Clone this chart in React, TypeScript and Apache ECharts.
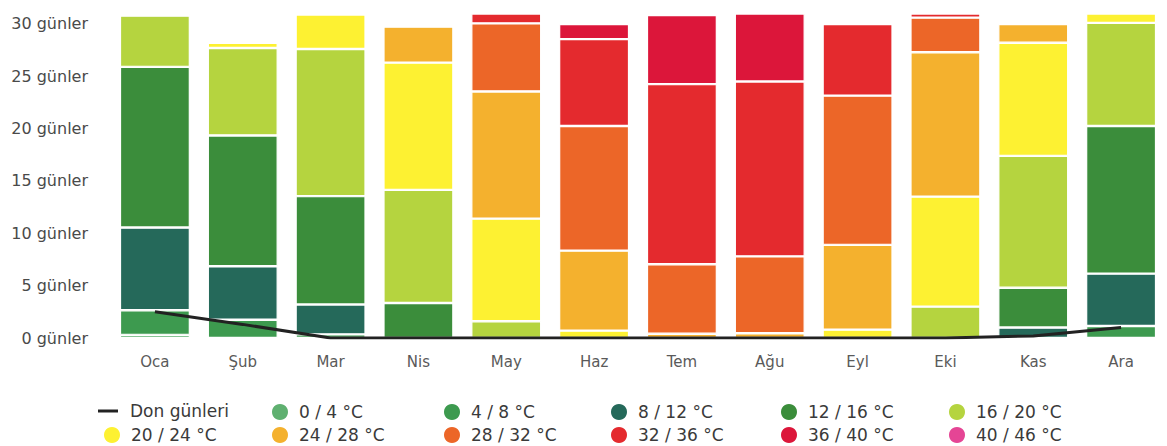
import React, { useEffect, useRef } from "react";
import * as echarts from "echarts";

const months = ["Oca", "Şub", "Mar", "Nis", "May", "Haz", "Tem", "Ağu", "Eyl", "Eki", "Kas", "Ara"];
const yTicks = [0, 5, 10, 15, 20, 25, 30];

const frostDays = [2.5, 1.3, 0, 0, 0, 0, 0, 0, 0, 0, 0.2, 1.0];

const t0_4 = [0.3, null, null, null, null, null, null, null, null, null, null, null];
const t4_8 = [2.35, 1.75, 0.35, null, null, null, null, null, null, null, null, 1.15];
const t8_12 = [7.9, 5.1, 2.85, null, null, null, null, null, null, null, 1.0, 5.0];
const t12_16 = [15.35, 12.5, 10.35, 3.35, null, null, null, null, null, null, 3.8, 14.1];
const t16_20 = [4.9, 8.35, 14.05, 10.8, 1.6, null, null, null, null, 3.0, 12.6, 9.85];
const t20_24 = [0.2, 0.5, 3.3, 12.15, 9.8, 0.7, null, null, 0.8, 10.5, 10.8, 0.9];
const t24_28 = [null, null, 0.1, 3.45, 12.15, 7.65, 0.4, 0.45, 8.1, 13.8, 1.8, null];
const t28_32 = [null, null, null, 0.25, 6.5, 11.9, 6.65, 7.35, 14.25, 3.3, null, null];
const t32_36 = [null, null, null, null, 0.95, 8.3, 17.2, 16.7, 6.85, 0.4, null, null];
const t36_40 = [null, null, null, null, null, 1.45, 6.6, 6.5, null, null, null, null];
const t40_46 = [null, null, null, null, null, null, 0.15, null, null, null, null, null];

const frostName = "Don günleri";
const tempNames = [
  "0 / 4 °C", "4 / 8 °C", "8 / 12 °C", "12 / 16 °C", "16 / 20 °C", "20 / 24 °C",
  "24 / 28 °C", "28 / 32 °C", "32 / 36 °C", "36 / 40 °C", "40 / 46 °C",
];
const tempData = [t0_4, t4_8, t8_12, t12_16, t16_20, t20_24, t24_28, t28_32, t32_36, t36_40, t40_46];
const tempColors = [
  "#5fb070", "#3d9a4f", "#25695a", "#3b8d3b", "#b5d43f", "#fdf132",
  "#f4b12e", "#ec6628", "#e42a2e", "#dc163a", "#e54595",
];

export default function App() {
  const ref = useRef<HTMLDivElement>(null);
  useEffect(() => {
    if (!ref.current) return;
    const chart = echarts.init(ref.current, null, { renderer: "svg" });
    const font = "DejaVu Sans";

    const barSeries = tempNames.map((name, i) => ({
      name,
      type: "bar",
      stack: "days",
      barWidth: 70,
      data: tempData[i],
      itemStyle: { color: tempColors[i], borderColor: "#ffffff", borderWidth: 1.2 },
      emphasis: { disabled: true },
    }));

    // legend layout: 6 columns, 2 rows
    const colText = [130, 298, 470, 637, 807, 975];
    const rowY = [411, 434];
    const legendNames = [frostName, ...tempNames];
    const legends = legendNames.map((name, idx) => {
      const row = Math.floor(idx / 6);
      const col = idx % 6;
      const isLine = idx === 0;
      const iw = isLine ? 20 : 18;
      const ih = isLine ? 3 : 18;
      const pad = isLine ? 7 : 5;
      return {
        data: [{ name, icon: isLine ? "rect" : "circle" }],
        left: colText[col] - iw - 5 - pad,
        top: rowY[row] - 9,
        padding: 0,
        itemWidth: iw,
        itemHeight: ih,
        selectedMode: false,
        textStyle: {
          fontFamily: font,
          fontSize: 17,
          lineHeight: 18,
          color: "#3a3a3a",
          padding: [0, 0, 0, pad],
        },
      };
    });

    chart.setOption({
      animation: false,
      backgroundColor: "#ffffff",
      legend: legends,
      grid: { left: 111, right: 2, top: 3, bottom: 108, containLabel: false },
      xAxis: {
        type: "category",
        data: months,
        axisLine: { show: false },
        axisTick: { show: false },
        axisLabel: { fontFamily: font, fontSize: 15, color: "#5a5a5a", margin: 16 },
      },
      yAxis: {
        type: "value",
        min: 0,
        max: 32,
        interval: 5,
        axisLine: { show: false },
        axisTick: { show: false },
        splitLine: { show: false },
        axisLabel: {
          fontFamily: font,
          fontSize: 16,
          color: "#4a4a4a",
          margin: 23,
          showMaxLabel: false,
          formatter: (v: number) => (yTicks.includes(v) ? `${v} günler` : ""),
        },
      },
      series: [
        ...barSeries,
        {
          name: frostName,
          type: "line",
          data: frostDays,
          symbol: "none",
          z: 10,
          lineStyle: { color: "#222222", width: 3 },
          itemStyle: { color: "#222222" },
          emphasis: { disabled: true },
        },
      ],
    });
    return () => chart.dispose();
  }, []);
  return <div ref={ref} style={{ position: "absolute", left: 0, top: 0, width: 1167, height: 446 }} />;
}
